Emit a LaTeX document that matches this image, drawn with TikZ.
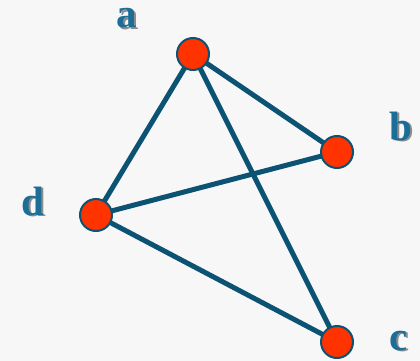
\documentclass[tikz,border=0pt]{standalone}
\usepackage{fontspec}
\setmainfont{Liberation Serif}
\definecolor{edgecol}{HTML}{0B5273}
\definecolor{nodefill}{HTML}{FF3300}
\definecolor{labcol}{HTML}{1B6E98}
\newcommand{\shadowed}[1]{\makebox[0pt][l]{\hspace{1.5pt}\raisebox{-1.5pt}{\textcolor{black!45}{#1}}}#1}
\begin{document}
\begin{tikzpicture}[x=1pt,y=-1pt,
  vertex/.style={circle,fill=nodefill,draw=edgecol,line width=2pt,minimum size=32pt,inner sep=0pt},
  edge/.style={draw=edgecol,line width=5pt},
  lab/.style={font=\fontsize{41}{41}\selectfont\bfseries,text=labcol,inner sep=0pt,anchor=base}]
\fill[white!97!black] (0,0) rectangle (420,361);
\useasboundingbox (0,0) rectangle (420,361);
\coordinate (pa) at (193,54);
\coordinate (pb) at (337,152);
\coordinate (pc) at (337,342);
\coordinate (pd) at (96,215);
\draw[edge] (pa) -- (pb);
\draw[edge] (pa) -- (pd);
\draw[edge] (pa) -- (pc);
\draw[edge] (pd) -- (pb);
\draw[edge] (pd) -- (pc);
\node[vertex] (a) at (pa) {};
\node[vertex] (b) at (pb) {};
\node[vertex] (c) at (pc) {};
\node[vertex] (d) at (pd) {};
\node[lab] (la) at (127,28) {\shadowed{a}};
\node[lab] (lb) at (401,140) {\shadowed{b}};
\node[lab] (lc) at (399,350) {\shadowed{c}};
\node[lab] (ld) at (33,215) {\shadowed{d}};
\end{tikzpicture}
\end{document}
